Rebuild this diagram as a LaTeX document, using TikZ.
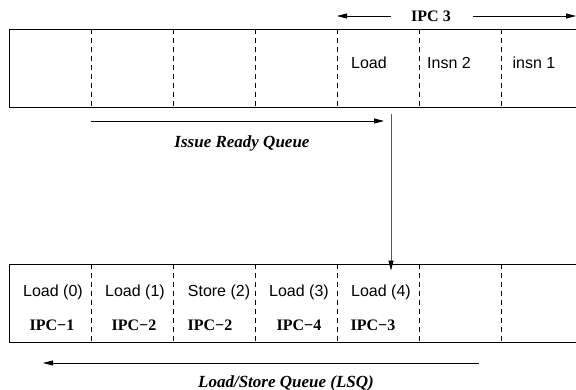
\documentclass[tikz,border=0pt]{standalone}
\usepackage{fontspec}
\setmainfont{Liberation Serif}
\newfontfamily\helv{Liberation Sans}
\usetikzlibrary{arrows.meta}
\tikzset{
  queuebox/.style={draw, line width=0.9pt, minimum width=573pt, minimum height=78pt, inner sep=0pt},
  divider/.style={line width=0.9pt, dash pattern=on 5pt off 4pt},
  celltext/.style={inner sep=0pt, font=\helv\fontsize{16}{19}\selectfont},
  ipctext/.style={inner sep=0pt, font=\bfseries\fontsize{16}{19}\selectfont},
  qlabel/.style={inner sep=0pt, font=\bfseries\itshape\fontsize{17}{20}\selectfont},
  flow/.style={line width=0.8pt, -{Triangle[length=10pt,width=5pt]}}
}
\begin{document}
\begin{tikzpicture}[x=1pt,y=-1pt]
\useasboundingbox (0,0) rectangle (576,390);
% top box (Issue Ready Queue)
\node[queuebox] (top) at (295.5,68) {};
\foreach \i/\x in {1/91,2/173,3/255,4/337,5/419,6/501}{
  \draw[divider] (\x,29) -- (\x,107);
}
\node[celltext] (tload) at (369,63) {Load};
\node[celltext] (tinsn2) at (449,63) {Insn 2};
\node[celltext] (tinsn1) at (534,63) {insn 1};
% IPC 3 span
\node[ipctext] (ipc3) at (431,16) {IPC 3};
\coordinate (ipcl) at (337,16);
\coordinate (ipcr) at (576,16);
\draw[flow] (ipc3.west) ++(-20pt,0) -- (ipcl);
\draw[flow] (ipc3.east) ++(22pt,0) -- (ipcr);
% issue ready queue direction
\coordinate (irqs) at (91,121);
\coordinate (irqe) at (384,121);
\draw[flow] (irqs) -- (irqe);
\node[qlabel] (irqlabel) at (242,143) {Issue Ready Queue};
% bottom box (LSQ)
\node[queuebox] (bot) at (295.5,303) {};
\foreach \i/\x in {1/91,2/173,3/255,4/337,5/419,6/501}{
  \draw[divider] (\x,264) -- (\x,342);
}
\node[celltext] (l0) at (53,292) {Load (0)};
\node[celltext] (l1) at (135,292) {Load (1)};
\node[celltext] (s2) at (219,292) {Store (2)};
\node[celltext] (l3) at (299,292) {Load (3)};
\node[celltext] (l4) at (381,292) {Load (4)};
\node[ipctext] (p0) at (52,325) {IPC\textminus1};
\node[ipctext] (p1) at (134,325) {IPC\textminus2};
\node[ipctext] (p2) at (210,325) {IPC\textminus2};
\node[ipctext] (p3) at (299,325) {IPC\textminus4};
\node[ipctext] (p4) at (373,325) {IPC\textminus3};
% dispatch from issue queue to LSQ
\coordinate (disp) at (391,114);
\draw[flow] (disp) -- (disp |- bot.north) -- ++(0,-7pt) coordinate (dispend);
% LSQ direction
\coordinate (lsqs) at (479,363);
\coordinate (lsqe) at (43,363);
\draw[flow] (lsqs) -- (lsqe);
\node[qlabel] (lsqlabel) at (286,383) {Load/Store Queue (LSQ)};
\end{tikzpicture}
\end{document}
